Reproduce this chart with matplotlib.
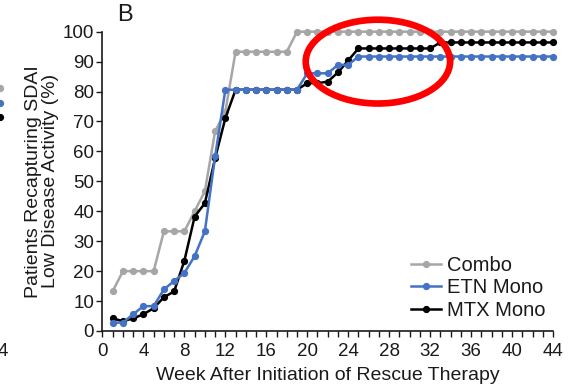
import matplotlib
matplotlib.use("Agg")
import matplotlib.pyplot as plt
from matplotlib.patches import Ellipse
from matplotlib.lines import Line2D
from matplotlib.ticker import MultipleLocator

plt.rcParams['font.family'] = ['Liberation Sans', 'DejaVu Sans']

weeks = list(range(1, 45))

combo = [13.3, 20.0, 20.0, 20.0, 20.0, 33.3, 33.3, 33.3, 40.0, 46.7,
         66.7, 73.3, 93.3, 93.3, 93.3, 93.3, 93.3, 93.3] + [100.0] * 26

etn_mono = [2.8, 2.8, 5.6, 8.3, 8.3, 13.9, 16.7, 19.4, 25.0, 33.3,
            58.3] + [80.6] * 8 + [86.1, 86.1, 86.1, 88.9, 88.9] + [91.7] * 20

mtx_mono = [4.2, 3.3, 4.2, 5.6, 7.6, 11.3, 13.2, 23.5, 38.2, 42.7,
            57.7, 71.1] + [80.6] * 7 + [82.8, 82.8, 83.3, 86.4, 90.4] + [94.4] * 8 \
           + [96.4] * 12

series_names = ["Combo", "ETN Mono", "MTX Mono"]
series_colors = ["#a6a6a6", "#4472c4", "#000000"]

x_ticks = list(range(0, 45, 4))
y_ticks = list(range(0, 101, 10))

fig = plt.figure(figsize=(5.77, 3.85), dpi=100)
ax = fig.add_axes([0.1776, 0.1403, 0.7808, 0.7774])

line_kw = dict(marker="o", markersize=4.2, linewidth=1.8, clip_on=False)
h_combo, = ax.plot(weeks, combo, color=series_colors[0], zorder=3, **line_kw)
h_mtx, = ax.plot(weeks, mtx_mono, color=series_colors[2], zorder=4, **line_kw)
h_etn, = ax.plot(weeks, etn_mono, color=series_colors[1], zorder=5, **line_kw)

ax.set_xlim(0, 44)
ax.set_ylim(0, 100)
ax.set_xticks(x_ticks)
ax.set_yticks(y_ticks)
ax.xaxis.set_minor_locator(MultipleLocator(1))
ax.tick_params(axis="both", which="both", direction="out", labelsize=13.5,
               width=1.0, colors="#1a1a1a")
ax.tick_params(axis="x", which="both", length=4)
ax.tick_params(axis="y", which="major", length=4, pad=2)
ax.tick_params(axis="x", which="major", pad=5)

for side in ("top", "right"):
    ax.spines[side].set_visible(False)
for side in ("left", "bottom"):
    ax.spines[side].set_linewidth(1.2)
    ax.spines[side].set_color("#1a1a1a")

ax.set_xlabel("Week After Initiation of Rescue Therapy", fontsize=14, labelpad=5,
              color="#1a1a1a")
ax.set_ylabel("Patients Recapturing SDAI\nLow Disease Activity (%)", fontsize=14,
              labelpad=3, color="#1a1a1a", linespacing=1.0)

leg = ax.legend([h_combo, h_etn, h_mtx], series_names, loc="lower right",
                bbox_to_anchor=(1.015, -0.01), frameon=False, fontsize=14.5,
                handlelength=1.5, handletextpad=0.3, labelspacing=0.17,
                borderaxespad=0.3)
for text in leg.get_texts():
    text.set_color("#1a1a1a")

# highlight ring around the late plateau
ring = Ellipse((26.9, 90.0), width=14.1, height=28.0, fill=False,
               edgecolor="#ff0000", linewidth=4.8, clip_on=False, zorder=10)
ax.add_patch(ring)

# panel letter
fig.text(0.203, 0.932, "B", fontsize=17, color="#1a1a1a", ha="left", va="bottom")

# edge of neighbouring panel
fig.text(-0.004, 0.087, "4", fontsize=13.5, color="#1a1a1a", ha="left", va="center")
for yy, cc in [(0.771, "#a6a6a6"), (0.732, "#4472c4"), (0.696, "#000000")]:
    fig.add_artist(Line2D([0.0], [yy], marker="o", markersize=4.2, color=cc,
                          transform=fig.transFigure, clip_on=False))

fig.savefig("out.png", dpi=100)
